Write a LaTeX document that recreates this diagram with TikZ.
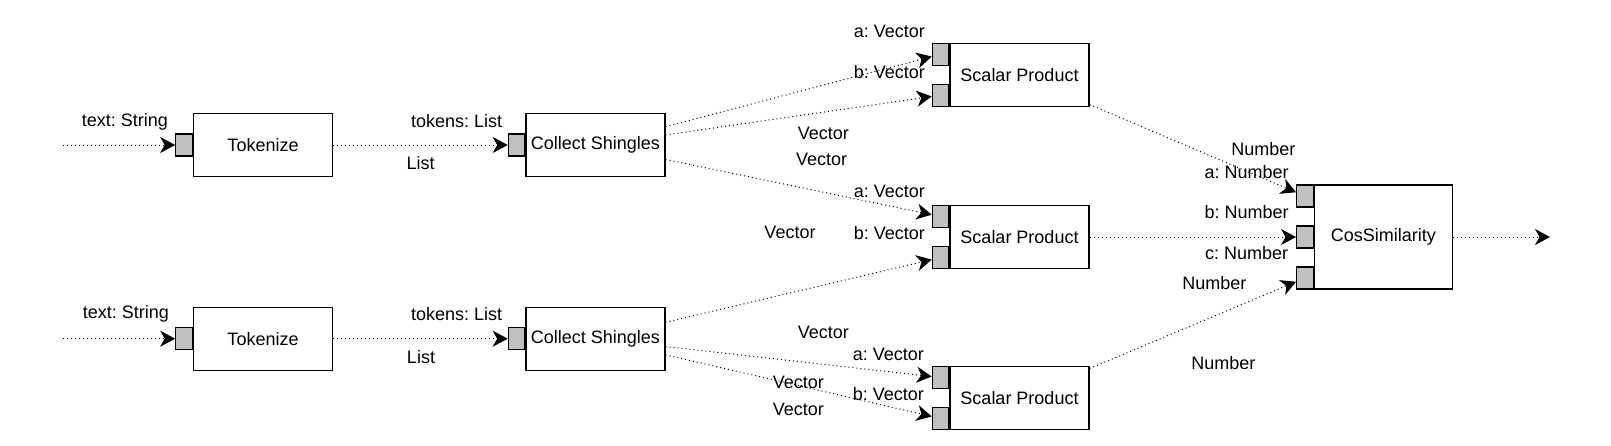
\documentclass[tikz,border=0pt]{standalone}
\usepackage{fontspec}
\setmainfont{Liberation Sans}
\usetikzlibrary{arrows.meta}
\newcommand\dfont{\fontsize{18}{21.5}\selectfont\frenchspacing}
\begin{document}
\begin{tikzpicture}[x=1pt,y=-1pt,
  box/.style={draw=black, fill=white, line width=1.2pt, minimum width=139pt, minimum height=63pt, inner sep=0pt, font=\dfont},
  bigbox/.style={box, minimum width=138pt, minimum height=104pt},
  port/.style={draw=black, fill=black!25, line width=1.2pt, minimum width=16.5pt, minimum height=22pt, inner sep=0pt},
  lbl/.style={inner sep=0pt, font=\dfont},
  conn/.style={line width=1pt, dash pattern=on 1pt off 3pt, -{Stealth[length=15pt,width=16pt,inset=4.5pt,fill=black]}}]
\useasboundingbox (0,0) rectangle (1611,445);

% boxes
\node[box] (tok1) at (263,145) {Tokenize};
\node[box] (tok2) at (263,338.7) {Tokenize};
\node[box] (cs1) at (595.5,145) {Collect Shingles};
\node[box] (cs2) at (595.5,338.7) {Collect Shingles};
\node[box] (sp1) at (1019.5,74.7) {Scalar Product};
\node[box] (sp2) at (1019.5,237) {Scalar Product};
\node[box] (sp3) at (1019.5,398) {Scalar Product};
\node[bigbox] (cos) at (1383.3,237) {CosSimilarity};

% ports
\node[port, anchor=east] (tok1p) at (tok1.west) {};
\node[port, anchor=east] (tok2p) at (tok2.west) {};
\node[port, anchor=east] (cs1p) at (cs1.west) {};
\node[port, anchor=east] (cs2p) at (cs2.west) {};
\node[port, anchor=north east] (sp1a) at (sp1.north west) {};
\node[port, anchor=south east] (sp1b) at (sp1.south west) {};
\node[port, anchor=north east] (sp2a) at (sp2.north west) {};
\node[port, anchor=south east] (sp2b) at (sp2.south west) {};
\node[port, anchor=north east] (sp3a) at (sp3.north west) {};
\node[port, anchor=south east] (sp3b) at (sp3.south west) {};
\node[port, anchor=north east] (cosa) at (cos.north west) {};
\node[port, anchor=east] (cosb) at (cos.west) {};
\node[port, anchor=south east] (cosc) at (cos.south west) {};

% free ends
\coordinate (in1) at (62.5,145);
\coordinate (in2) at (62.5,338.7);
\coordinate (out) at (1550,237);

% connectors
\draw[conn] (in1) -- (tok1p);
\draw[conn] (in2) -- (tok2p);
\draw[conn] (tok1) -- (cs1p);
\draw[conn] (tok2) -- (cs2p);
\draw[conn] (cs1) -- (sp1a);
\draw[conn] (cs1) -- (sp1b);
\draw[conn] (cs1) -- (sp2a);
\draw[conn] (cs2) -- (sp2b);
\draw[conn] (cs2) -- (sp3a);
\draw[conn] (cs2) -- (sp3b);
\draw[conn] (sp1) -- (cosa);
\draw[conn] (sp2) -- (cosb);
\draw[conn] (sp3) -- (cosc);
\draw[conn] (cos) -- (out);

% labels
\node[lbl] (l1) at (125,121.7) {text: String};
\node[lbl] (l2) at (456.7,120.7) {tokens: List};
\node[lbl] (l3) at (420.7,163.3) {List};
\node[lbl] (l4) at (126,314.3) {text: String};
\node[lbl] (l5) at (456.7,314) {tokens: List};
\node[lbl] (l6) at (421,356.7) {List};

\node[lbl] (l7) at (889.3,31.7) {a: Vector};
\node[lbl] (l8) at (889.3,71.7) {b: Vector};
\node[lbl] (l9) at (823.3,133.3) {Vector};
\node[lbl] (l10) at (821.7,159.3) {Vector};
\node[lbl] (l11) at (889.3,191.7) {a: Vector};
\node[lbl] (l12) at (790,232.3) {Vector};
\node[lbl] (l13) at (889.3,233.3) {b: Vector};
\node[lbl] (l14) at (823.3,332.3) {Vector};
\node[lbl] (l15) at (888.3,354.3) {a: Vector};
\node[lbl] (l16) at (798.3,382.7) {Vector};
\node[lbl] (l17) at (888.3,394.3) {b: Vector};
\node[lbl] (l18) at (798.3,409.3) {Vector};

\node[lbl] (l19) at (1263.3,149.3) {Number};
\node[lbl] (l20) at (1246.7,172.3) {a: Number};
\node[lbl] (l21) at (1246.7,212.3) {b: Number};
\node[lbl] (l22) at (1246.7,252.7) {c: Number};
\node[lbl] (l23) at (1214.3,283.3) {Number};
\node[lbl] (l24) at (1223.3,363.3) {Number};
\end{tikzpicture}
\end{document}
